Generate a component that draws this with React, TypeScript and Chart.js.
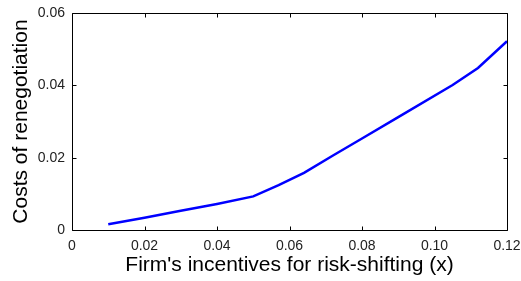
import React, { useEffect, useRef } from "react";
import { Chart, registerables } from "chart.js";

Chart.register(...registerables);

const xValues = [0.01, 0.02, 0.03, 0.04, 0.05, 0.057, 0.064, 0.072, 0.08, 0.09, 0.105, 0.112, 0.12];
const costValues = [0.0016, 0.0034, 0.0053, 0.0072, 0.0093, 0.0124, 0.0158, 0.0206, 0.0253, 0.0312, 0.0401, 0.0448, 0.0522];
const xTicks = [0, 0.02, 0.04, 0.06, 0.08, 0.1, 0.12];
const yTicks = [0, 0.02, 0.04, 0.06];

const fmt = (v: number) => (v === 0 ? "0" : v.toFixed(2));

const boxPlugin = {
  id: "matlabBox",
  afterDraw(chart: any) {
    const { ctx, chartArea: a, scales } = chart;
    const xs = scales.x;
    const ys = scales.y;
    ctx.save();
    ctx.strokeStyle = "#000";
    ctx.lineWidth = 1;
    const L = Math.round(a.left) + 0.5;
    const R = Math.round(a.right) + 0.5;
    const T = Math.round(a.top) + 0.5;
    const B = Math.round(a.bottom) + 0.5;
    ctx.beginPath();
    ctx.moveTo(L, T);
    ctx.lineTo(R, T);
    ctx.lineTo(R, B);
    ctx.lineTo(L, B);
    ctx.closePath();
    ctx.stroke();
    const tl = 4;
    ctx.beginPath();
    xTicks.forEach((v) => {
      const px = Math.round(xs.getPixelForValue(v)) + 0.5;
      ctx.moveTo(px, B);
      ctx.lineTo(px, B - tl);
      ctx.moveTo(px, T);
      ctx.lineTo(px, T + tl);
    });
    yTicks.forEach((v) => {
      const py = Math.round(ys.getPixelForValue(v)) + 0.5;
      ctx.moveTo(L, py);
      ctx.lineTo(L + tl, py);
      ctx.moveTo(R, py);
      ctx.lineTo(R - tl, py);
    });
    ctx.stroke();
    ctx.restore();
  },
};

export default function App() {
  const ref = useRef<HTMLCanvasElement | null>(null);
  useEffect(() => {
    if (!ref.current) return;
    const chart = new Chart(ref.current, {
      type: "line",
      data: {
        datasets: [
          {
            data: xValues.map((x, i) => ({ x, y: costValues[i] })),
            borderColor: "#0000ff",
            borderWidth: 2.5,
            pointRadius: 0,
            tension: 0,
            fill: false,
          },
        ],
      },
      options: {
        animation: false,
        responsive: false,
        maintainAspectRatio: false,
        layout: { padding: { top: 13, right: 14, left: 0, bottom: 0 } },
        plugins: { legend: { display: false }, tooltip: { enabled: false } },
        scales: {
          x: {
            type: "linear",
            min: 0,
            max: 0.12,
            afterFit: (s: any) => {
              s.height = 51;
              s.paddingLeft = 0;
              s.paddingRight = 0;
            },
            afterBuildTicks: (s: any) => {
              s.ticks = xTicks.map((v) => ({ value: v }));
            },
            grid: { display: false, drawTicks: false },
            border: { display: false },
            ticks: {
              padding: 8,
              color: "#222",
              font: { family: "Liberation Sans, Arial, sans-serif", size: 14 },
              callback: (v: any) => fmt(Number(v)),
              maxRotation: 0,
              autoSkip: false,
            },
            title: {
              display: true,
              text: "Firm's incentives for risk-shifting (x)",
              color: "#000",
              font: { family: "Liberation Sans, Arial, sans-serif", size: 21 },
              padding: { top: 0, bottom: 3 },
            },
          },
          y: {
            type: "linear",
            min: 0,
            max: 0.06,
            afterFit: (s: any) => {
              s.width = 72;
              s.paddingTop = 0;
              s.paddingBottom = 0;
            },
            afterBuildTicks: (s: any) => {
              s.ticks = yTicks.map((v) => ({ value: v }));
            },
            grid: { display: false, drawTicks: false },
            border: { display: false },
            ticks: {
              padding: 7,
              color: "#222",
              font: { family: "Liberation Sans, Arial, sans-serif", size: 14 },
              callback: (v: any) => fmt(Number(v)),
              autoSkip: false,
            },
            title: {
              display: true,
              text: "Costs of renegotiation",
              color: "#000",
              font: { family: "Liberation Sans, Arial, sans-serif", size: 21 },
              padding: { top: 9, bottom: 0 },
            },
          },
        },
      },
      plugins: [boxPlugin],
    });
    return () => chart.destroy();
  }, []);
  return (
    <div style={{ position: "fixed", left: 0, top: 0, width: 521, height: 281, background: "#fff" }}>
      <canvas ref={ref} width={521} height={281} style={{ width: 521, height: 281, display: "block" }} />
    </div>
  );
}
